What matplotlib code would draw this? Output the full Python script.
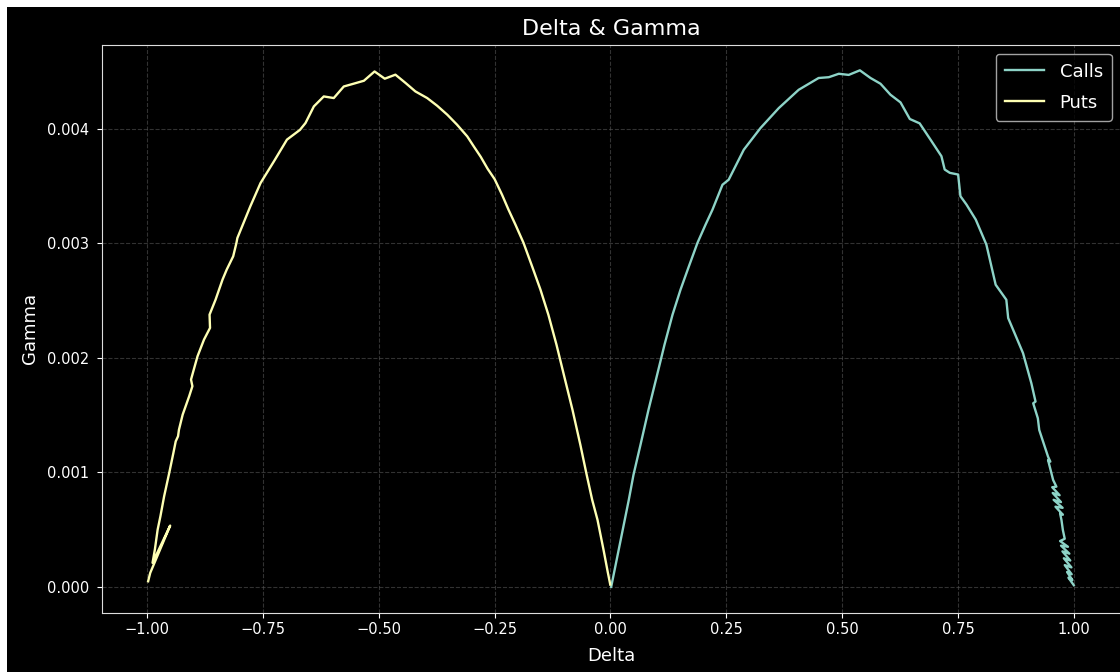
import matplotlib
matplotlib.use("Agg")
import matplotlib.pyplot as plt
from matplotlib.patches import Rectangle

# Call option greeks, ordered by strike
call_delta = [
    0.9995, 0.9880, 0.9965, 0.9850, 0.9950, 0.9800, 0.9945, 0.9780, 0.9920, 0.9750,
    0.9900, 0.9720, 0.9870, 0.9700, 0.9800, 0.9760, 0.9730, 0.9700, 0.9760, 0.9600,
    0.9755, 0.9560, 0.9720, 0.9540, 0.9690, 0.9530, 0.9620, 0.9550,
    0.9440, 0.9490, 0.9440, 0.9250,
    0.9220, 0.9120, 0.9170, 0.9080, 0.8900, 0.8580, 0.8540, 0.8310, 0.8110, 0.7880,
    0.7680, 0.7550, 0.7500, 0.7320, 0.7210, 0.7140, 0.6925, 0.6670, 0.6458, 0.6257,
    0.6040, 0.5825, 0.5610, 0.5380, 0.5140, 0.4926, 0.4710, 0.4490, 0.4060, 0.3630,
    0.3236, 0.2876, 0.2550, 0.2416, 0.2330, 0.2200, 0.2050, 0.1877, 0.1680, 0.1510,
    0.1338, 0.1165, 0.0990, 0.0820, 0.0647, 0.0496, 0.0395, 0.0015,
]
call_gamma = [
    0.000015, 0.000080, 0.000060, 0.000130, 0.000110, 0.000190, 0.000170, 0.000250, 0.000230, 0.000310,
    0.000290, 0.000360, 0.000350, 0.000400, 0.000420, 0.000496, 0.000583, 0.000640, 0.000630, 0.000700,
    0.000690, 0.000760, 0.000740, 0.000820, 0.000800, 0.000870, 0.000875, 0.000933,
    0.001108, 0.001093, 0.001137, 0.001370,
    0.001472, 0.001603, 0.001618, 0.001778, 0.002041, 0.002347, 0.002507, 0.002638, 0.002988, 0.003207,
    0.003338, 0.003411, 0.003600, 0.003615, 0.003644, 0.003760, 0.003892, 0.004047, 0.004085, 0.004230,
    0.004297, 0.004393, 0.004443, 0.004510, 0.004470, 0.004480, 0.004450, 0.004443, 0.004340, 0.004180,
    0.004006, 0.003817, 0.003555, 0.003511, 0.003424, 0.003293, 0.003162, 0.003004, 0.002786, 0.002594,
    0.002376, 0.002114, 0.001825, 0.001546, 0.001240, 0.000978, 0.000760, 0.000000,
]

# Put option greeks, ordered by strike
put_delta = [
    -0.0005, -0.0060, -0.0150, -0.0280, -0.0395, -0.0520, -0.0650, -0.0820,
    -0.0990, -0.1165, -0.1340, -0.1510, -0.1680, -0.1877, -0.2050, -0.2200,
    -0.2340, -0.2500, -0.2650, -0.2800, -0.2950, -0.3090, -0.3310, -0.3520,
    -0.3740, -0.3955, -0.4210, -0.4420, -0.4640, -0.4870, -0.5090, -0.5320,
    -0.5570, -0.5754, -0.5970, -0.6186, -0.6400, -0.6580, -0.6700, -0.6980,
    -0.7260, -0.7550, -0.7770, -0.8050, -0.8070, -0.8140, -0.8280, -0.8370,
    -0.8520, -0.8650, -0.8640, -0.8770, -0.8910, -0.8980, -0.9050, -0.9020,
    -0.9090, -0.9230, -0.9310, -0.9330, -0.9380, -0.9430, -0.9520, -0.9630,
    -0.9710, -0.9770, -0.9830, -0.9880, -0.9500, -0.9930, -0.9975,
]
put_gamma = [
    0.000020, 0.000131, 0.000323, 0.000585, 0.000760, 0.000990, 0.001240, 0.001546,
    0.001825, 0.002114, 0.002376, 0.002594, 0.002786, 0.003004, 0.003162, 0.003293,
    0.003424, 0.003560, 0.003650, 0.003755, 0.003846, 0.003933, 0.004035, 0.004122,
    0.004201, 0.004268, 0.004326, 0.004399, 0.004472, 0.004437, 0.004500, 0.004419,
    0.004390, 0.004369, 0.004268, 0.004282, 0.004195, 0.004050, 0.003990, 0.003905,
    0.003716, 0.003526, 0.003323, 0.003046, 0.003003, 0.002886, 0.002770, 0.002683,
    0.002508, 0.002377, 0.002261, 0.002159, 0.002013, 0.001912, 0.001810, 0.001752,
    0.001664, 0.001504, 0.001373, 0.001315, 0.001271, 0.001170, 0.000995, 0.000791,
    0.000617, 0.000500, 0.000326, 0.000210, 0.000535, 0.000122, 0.000049,
]

x_ticks = [-1.0, -0.75, -0.5, -0.25, 0.0, 0.25, 0.5, 0.75, 1.0]
y_ticks = [0.0, 0.001, 0.002, 0.003, 0.004]

plt.style.use("dark_background")

W, H = 1120, 672
fig = plt.figure(figsize=(W / 100, H / 100), dpi=100)
fig.patch.set_facecolor("black")

# thin white margin along the left and top edges
fig.patches.append(Rectangle((0, 0), 7 / W, 1, transform=fig.transFigure,
                             facecolor="white", edgecolor="none", zorder=-1))
fig.patches.append(Rectangle((0, 1 - 7 / H), 1, 7 / H, transform=fig.transFigure,
                             facecolor="white", edgecolor="none", zorder=-1))

left_px, right_px = 101.7, 1121.0
bottom_px, top_px = 612.7, 44.5
ax = fig.add_axes([left_px / W, (H - bottom_px) / H,
                   (right_px - left_px) / W, (bottom_px - top_px) / H])
ax.set_facecolor("black")

ax.plot(call_delta, call_gamma, color="#8dd3c7", lw=1.7, label="Calls")
ax.plot(put_delta, put_gamma, color="#feffb3", lw=1.7, label="Puts")

ax.set_xlim(-1.0977, 1.1014)
ax.set_xticks(x_ticks)
ax.set_yticks(y_ticks)

ax.grid(True, linestyle="--", color="#555555", alpha=0.6, linewidth=0.8)
ax.tick_params(labelsize=10.5)
ax.tick_params(axis="y", pad=5.5)
for s in ax.spines.values():
    s.set_color("#dddddd")

ax.set_title("Delta & Gamma", fontsize=16, pad=7)
ax.set_xlabel("Delta", fontsize=13, labelpad=7)
ax.set_ylabel("Gamma", fontsize=13, labelpad=6)
ax.legend(loc="upper right", fontsize=13, labelspacing=0.72,
          handlelength=2.2, handletextpad=0.85, borderpad=0.5)

fig.savefig("out.png", dpi=100, facecolor=fig.get_facecolor())
